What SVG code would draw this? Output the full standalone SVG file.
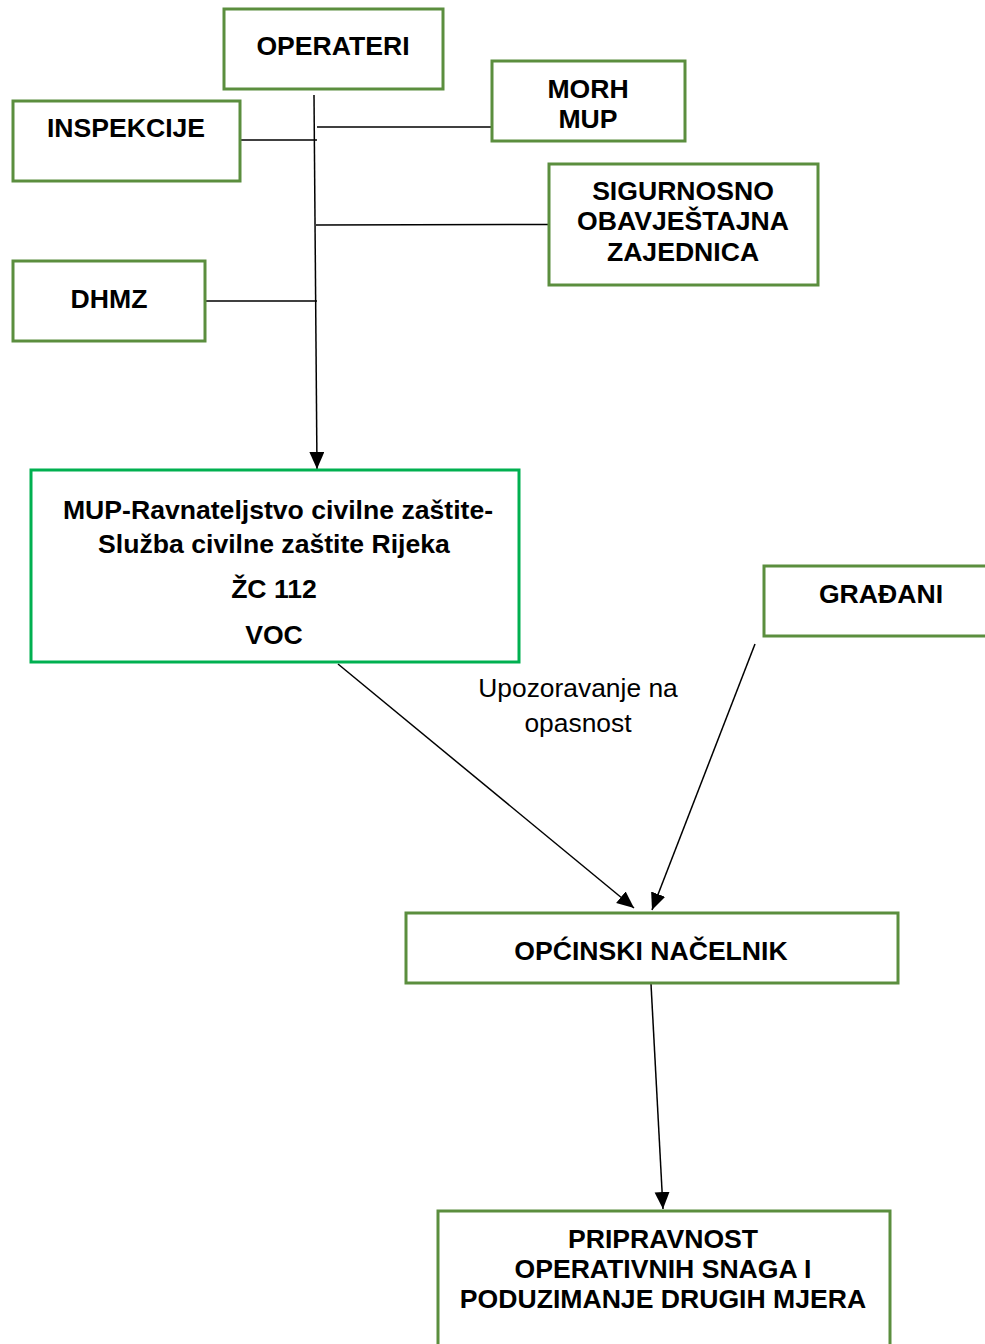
<svg xmlns="http://www.w3.org/2000/svg" width="985" height="1344" viewBox="0 0 985 1344">
<style>
.box{fill:#fff;stroke:#5b8e3e;stroke-width:3}
.box2{fill:#fff;stroke:#00b050;stroke-width:3}
.t{font-family:"Liberation Sans",Arial,sans-serif;font-weight:bold;font-size:26.6px;fill:#000;text-anchor:middle}
.r{font-family:"Liberation Sans",Arial,sans-serif;font-size:26.4px;fill:#000;text-anchor:middle}
.c{fill:none;stroke:#000;stroke-width:1.5}
</style>
<defs>
<marker id="ah" markerUnits="userSpaceOnUse" markerWidth="18" markerHeight="16" refX="17" refY="7.5" orient="auto">
<path d="M0,0 L17,7.5 L0,15 z" fill="#000"/>
</marker>
</defs>
<rect width="985" height="1344" fill="#fff"/>
<g id="connectors">
<path class="c" d="M314,95 L317,469" marker-end="url(#ah)"/>
<path class="c" d="M240,140 L317,140"/>
<path class="c" d="M317,127 L492,127"/>
<path class="c" d="M316,225 L548,224.5"/>
<path class="c" d="M205,301 L317,301"/>
<path class="c" d="M338,664 L634,908" marker-end="url(#ah)"/>
<path class="c" d="M755,644 L652,910" marker-end="url(#ah)"/>
<path class="c" d="M651,984 L663,1209" marker-end="url(#ah)"/>
</g>
<g id="operateri"><rect class="box" x="224" y="9" width="219" height="80"/><text class="t" x="333" y="55">OPERATERI</text></g>
<g id="inspekcije"><rect class="box" x="13" y="101" width="227" height="80"/><text class="t" x="126" y="137">INSPEKCIJE</text></g>
<g id="morh-mup"><rect class="box" x="492" y="61" width="193" height="80"/><text class="t" x="588" y="98">MORH</text><text class="t" x="588" y="128">MUP</text></g>
<g id="soa"><rect class="box" x="549" y="164" width="269" height="121"/><text class="t" x="683" y="200">SIGURNOSNO</text><text class="t" x="683" y="230">OBAVJEŠTAJNA</text><text class="t" x="683" y="261">ZAJEDNICA</text></g>
<g id="dhmz"><rect class="box" x="13" y="261" width="192" height="80"/><text class="t" x="109" y="308">DHMZ</text></g>
<g id="mup-rcz"><rect class="box2" x="31" y="470" width="488" height="192"/><text class="t" x="278" y="519">MUP-Ravnateljstvo civilne zaštite-</text><text class="t" x="274" y="553">Služba civilne zaštite Rijeka</text><text class="t" x="274" y="598">ŽC 112</text><text class="t" x="274" y="644">VOC</text></g>
<g id="gradani"><rect class="box" x="764" y="566" width="240" height="70"/><text class="t" x="881" y="603">GRAĐANI</text></g>
<g id="label"><text class="r" x="578" y="697">Upozoravanje na</text><text class="r" x="578" y="732">opasnost</text></g>
<g id="nacelnik"><rect class="box" x="406" y="913" width="492" height="70"/><text class="t" x="651" y="960">OPĆINSKI NAČELNIK</text></g>
<g id="pripravnost"><rect class="box" x="438" y="1211" width="452" height="150"/><text class="t" x="663" y="1248">PRIPRAVNOST</text><text class="t" x="663" y="1278">OPERATIVNIH SNAGA I</text><text class="t" x="663" y="1308">PODUZIMANJE DRUGIH MJERA</text></g>
</svg>
